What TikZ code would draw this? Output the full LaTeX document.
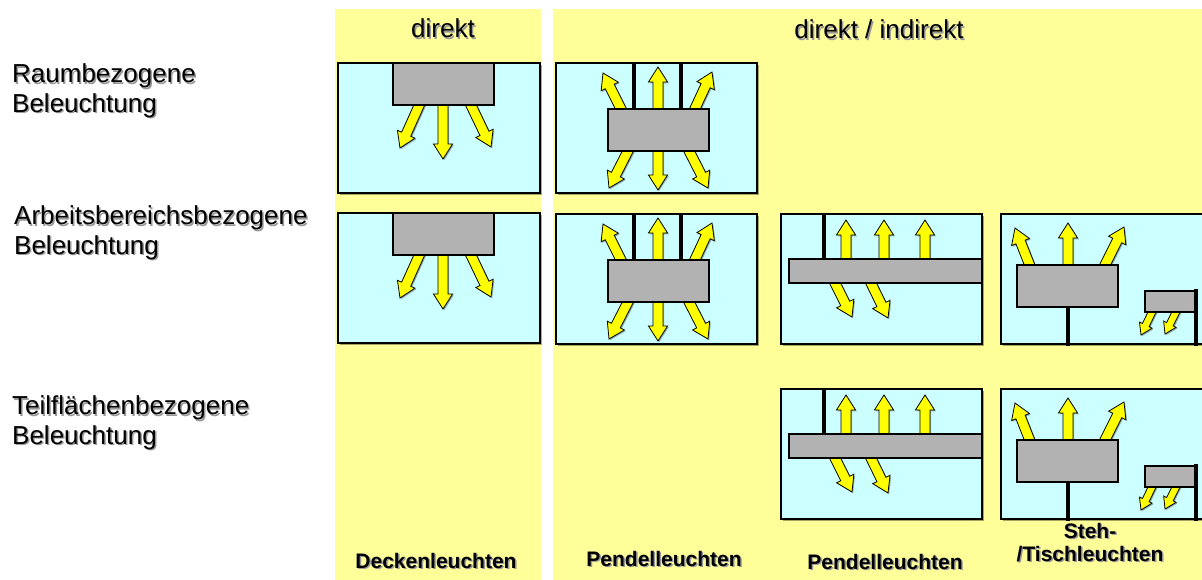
\documentclass[tikz,border=0pt]{standalone}
\usepackage{fontspec}
\setmainfont{Liberation Sans}
\usetikzlibrary{shapes.arrows,shadows}
\definecolor{bgyellow}{HTML}{FFFF99}
\definecolor{panelcyan}{HTML}{CCFFFF}
\definecolor{lampgrey}{HTML}{B2B2B2}
\definecolor{rayyellow}{HTML}{FFFF00}
\newcommand{\shtxt}[1]{\leavevmode\rlap{\kern1.5pt\raisebox{-1.5pt}{\textcolor{black!40}{#1}}}#1}
\newcommand{\yarrow}[6][yarr]{%
  \pgfmathsetmacro\arang{atan2(-(#6)+(#4),(#5)-(#3))}%
  \pgfmathsetmacro\arlen{veclen((#5)-(#3),(#6)-(#4))}%
  \node[#1,minimum height=\arlen pt,rotate=\arang,anchor=tail] (#2) at (#3,#4) {};}
\tikzset{
  panel/.style={draw=black, line width=2pt, fill=panelcyan,
    drop shadow={shadow xshift=2pt, shadow yshift=-2pt, fill=black, opacity=0.35}},
  lamp/.style={draw=black, line width=1.4pt, fill=lampgrey},
  rod/.style={draw=black, line width=3.5pt},
  yarr/.style={single arrow, draw=black, line width=0.8pt, fill=rayyellow,
    inner xsep=0pt, inner ysep=4.6pt, single arrow head extend=4.6pt, single arrow tip angle=65,
    outer sep=0pt,
    drop shadow={shadow xshift=1.2pt, shadow yshift=-1.2pt, fill=black, opacity=0.3}},
  sarr/.style={yarr, inner ysep=3.3pt, single arrow head extend=3.3pt},
  lbl/.style={align=left, inner sep=0pt, font=\fontsize{26}{29.5}\selectfont},
  hdr/.style={inner sep=0pt, font=\fontsize{26}{30}\selectfont},
  foot/.style={align=center, inner sep=0pt, font=\bfseries\fontsize{21}{23}\selectfont},
}
\begin{document}
\begin{tikzpicture}[x=1pt,y=-1pt]
\useasboundingbox (0,0) rectangle (1202,580);
\clip (0,0) rectangle (1202,580);
\fill[white] (0,0) rectangle (1202,580);
% column backgrounds
\fill[bgyellow] (335,9) rectangle (541,580);
\fill[bgyellow] (553,9) rectangle (1202,580);
% headers
\node[hdr, anchor=base] (h1) at (443,38) {\shtxt{direkt}};
\node[hdr, anchor=base] (h2) at (879,39) {\shtxt{direkt / indirekt}};
% row labels (base = last line)
\node[lbl, anchor=base west] (r1) at (12,112.5) {\shtxt{Raumbezogene}\\\shtxt{Beleuchtung}};
\node[lbl, anchor=base west] (r2) at (14,254.5) {\shtxt{Arbeitsbereichsbezogene}\\\shtxt{Beleuchtung}};
\node[lbl, anchor=base west] (r3) at (12,444) {\shtxt{Teilflächenbezogene}\\\shtxt{Beleuchtung}};
% column 1: ceiling lamps
\foreach \dy in {0,150}{
  \draw[panel] (338,63+\dy) rectangle (540,193+\dy);
  \yarrow{cA\dy}{422}{99+\dy}{400}{148+\dy}
  \yarrow{cB\dy}{443}{99+\dy}{443}{159+\dy}
  \yarrow{cC\dy}{468}{99+\dy}{491}{147+\dy}
  \draw[lamp] (393,63+\dy) rectangle (494,105+\dy);
}
% column 2: pendant lamps
\foreach \dy in {0,151}{
  \draw[panel] (556,63+\dy) rectangle (757,193+\dy);
  \draw[rod] (634,63+\dy) -- (634,109+\dy);
  \draw[rod] (681,63+\dy) -- (681,109+\dy);
  \yarrow{pA\dy}{624}{115+\dy}{603}{73+\dy}
  \yarrow{pB\dy}{658}{115+\dy}{658}{67+\dy}
  \yarrow{pC\dy}{692}{115+\dy}{712}{72+\dy}
  \yarrow{pD\dy}{631}{145+\dy}{609}{188+\dy}
  \yarrow{pE\dy}{658}{145+\dy}{658}{190+\dy}
  \yarrow{pF\dy}{686}{145+\dy}{708}{188+\dy}
  \draw[lamp] (608,109+\dy) rectangle (709,151+\dy);
}
% column 3: long pendant bar
\foreach \dy in {0,175}{
  \draw[panel] (781,214+\dy) rectangle (982,344+\dy);
  \draw[rod] (824,214+\dy) -- (824,259+\dy);
  \yarrow{bA\dy}{846}{265+\dy}{846}{220+\dy}
  \yarrow{bB\dy}{884}{265+\dy}{884}{220+\dy}
  \yarrow{bC\dy}{925}{265+\dy}{925}{220+\dy}
  \yarrow{bD\dy}{832}{277+\dy}{852}{317+\dy}
  \yarrow{bE\dy}{868}{277+\dy}{888}{318+\dy}
  \draw[lamp] (789,259+\dy) rectangle (982,283+\dy);
}
% column 4: floor / desk lamps
\foreach \dy in {0,175}{
  \draw[panel] (1001,214+\dy) rectangle (1215,344+\dy);
  \yarrow{sA\dy}{1032}{271+\dy}{1015}{228+\dy}
  \yarrow{sB\dy}{1068}{271+\dy}{1068}{223+\dy}
  \yarrow{sC\dy}{1102}{271+\dy}{1124}{227+\dy}
  \yarrow[sarr]{tA\dy}{1154}{308+\dy}{1141}{335+\dy}
  \yarrow[sarr]{tB\dy}{1178}{308+\dy}{1165}{334+\dy}
  \draw[rod] (1068,307+\dy) -- (1068,346+\dy);
  \draw[lamp] (1017,265+\dy) rectangle (1118,307+\dy);
  \draw[lamp] (1145,291+\dy) rectangle (1196,312+\dy);
  \draw[rod] (1196,289+\dy) -- (1196,346+\dy);
}
% footer labels
\node[foot, anchor=base] (f1) at (436,568) {\shtxt{Deckenleuchten}};
\node[foot, anchor=base] (f2) at (664,566) {\shtxt{Pendelleuchten}};
\node[foot, anchor=base] (f3) at (885,569) {\shtxt{Pendelleuchten}};
\node[foot, anchor=base] (f4) at (1090,561) {\shtxt{Steh-}\\\shtxt{/Tischleuchten}};
\end{tikzpicture}
\end{document}
